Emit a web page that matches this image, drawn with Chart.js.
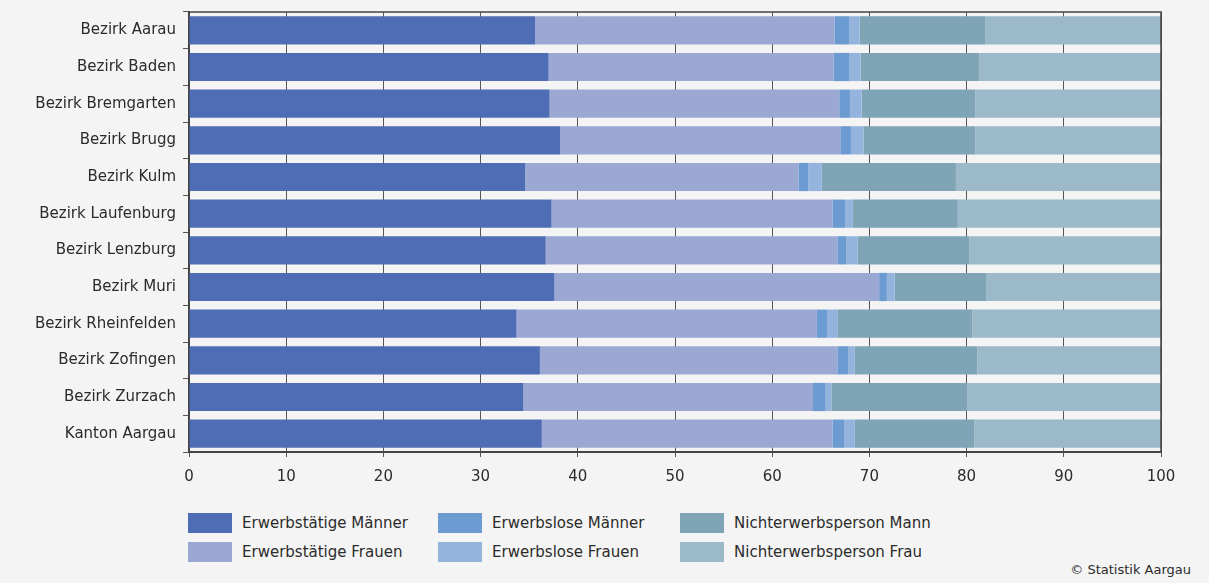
<!DOCTYPE html>
<html>
<head>
<meta charset="utf-8">
<script src="https://cdn.jsdelivr.net/npm/chart.js@4.4.1/dist/chart.umd.min.js"></script>
<style>
  body { margin: 0; background: #f4f4f4; font-family: 'DejaVu Sans', sans-serif; color: #2b2b2b; }
  #wrap { position: relative; width: 1209px; height: 583px; }
  #chartBox { position: absolute; left: 0; top: 0; width: 1209px; height: 490px; }
  .leg { position: absolute; font-size: 15px; line-height: 20px; white-space: nowrap; }
  .leg span { display: inline-block; width: 44px; height: 20px; vertical-align: top; margin-right: 10px; }
  #copy { position: absolute; right: 18px; top: 562px; font-size: 13px; }
</style>
</head>
<body>
<div id="wrap">
  <div id="chartBox"><canvas id="chartErwerb"></canvas></div>
  <div id="legend"></div>
  <div id="copy">© Statistik Aargau</div>
</div>
<script>
const bezirke = ['Bezirk Aarau', 'Bezirk Baden', 'Bezirk Bremgarten', 'Bezirk Brugg', 'Bezirk Kulm',
  'Bezirk Laufenburg', 'Bezirk Lenzburg', 'Bezirk Muri', 'Bezirk Rheinfelden', 'Bezirk Zofingen',
  'Bezirk Zurzach', 'Kanton Aargau'];

const erwerbstaetigeMaenner = [35.6, 37.0, 37.1, 38.2, 34.6, 37.3, 36.7, 37.6, 33.7, 36.1, 34.4, 36.3];
const erwerbstaetigeFrauen  = [30.8, 29.3, 29.8, 28.8, 28.1, 28.9, 30.0, 33.4, 30.9, 30.6, 29.8, 29.9];
const erwerbsloseMaenner    = [1.5, 1.6, 1.1, 1.1, 1.0, 1.3, 0.9, 0.8, 1.1, 1.1, 1.3, 1.2];
const erwerbsloseFrauen     = [1.1, 1.2, 1.2, 1.3, 1.4, 0.8, 1.2, 0.8, 1.0, 0.7, 0.6, 1.1];
const nichterwerbMann       = [12.9, 12.2, 11.7, 11.5, 13.8, 10.8, 11.5, 9.4, 13.9, 12.6, 14.0, 12.3];
const nichterwerbFrau       = [18.1, 18.7, 19.1, 19.1, 21.1, 20.9, 19.7, 18.0, 19.4, 18.9, 19.9, 19.2];

const xTicks = [0, 10, 20, 30, 40, 50, 60, 70, 80, 90, 100];

const series = [
  { label: 'Erwerbstätige Männer', data: erwerbstaetigeMaenner, color: '#4f6db5' },
  { label: 'Erwerbstätige Frauen', data: erwerbstaetigeFrauen, color: '#9ba8d4' },
  { label: 'Erwerbslose Männer', data: erwerbsloseMaenner, color: '#6b9bd1' },
  { label: 'Erwerbslose Frauen', data: erwerbsloseFrauen, color: '#94b4de' },
  { label: 'Nichterwerbsperson Mann', data: nichterwerbMann, color: '#7fa4b6' },
  { label: 'Nichterwerbsperson Frau', data: nichterwerbFrau, color: '#9bb9c9' }
];

// legend: 3 columns, men on top row, women below
const legendPos = [[188, 513], [188, 542], [438, 513], [438, 542], [680, 513], [680, 542]];
const legendDiv = document.getElementById('legend');
series.forEach((s, i) => {
  const d = document.createElement('div');
  d.className = 'leg';
  d.style.left = legendPos[i][0] + 'px';
  d.style.top = legendPos[i][1] + 'px';
  d.innerHTML = '<span style="background:' + s.color + '"></span>' + s.label;
  legendDiv.appendChild(d);
});

const frame = {
  id: 'frame',
  afterDraw(chart) {
    const { ctx, chartArea: a } = chart;
    ctx.save();
    ctx.strokeStyle = '#444';
    ctx.lineWidth = 1.5;
    ctx.beginPath();
    ctx.moveTo(a.left, a.top);
    ctx.lineTo(a.right, a.top);
    ctx.lineTo(a.right, a.bottom);
    ctx.stroke();
    ctx.restore();
  }
};

Chart.defaults.font.family = "'DejaVu Sans', sans-serif";
Chart.defaults.font.size = 15;
Chart.defaults.color = '#2b2b2b';

new Chart(document.getElementById('chartErwerb'), {
  type: 'bar',
  data: {
    labels: bezirke,
    datasets: series.map(s => ({
      label: s.label,
      data: s.data,
      backgroundColor: s.color,
      borderWidth: 0,
      categoryPercentage: 1,
      barPercentage: 0.77
    }))
  },
  options: {
    indexAxis: 'y',
    responsive: true,
    maintainAspectRatio: false,
    animation: false,
    layout: { padding: { top: 12, right: 48, left: 0, bottom: 0 } },
    plugins: { legend: { display: false }, tooltip: { enabled: false } },
    scales: {
      x: {
        stacked: true,
        min: 0,
        max: 100,
        afterBuildTicks: axis => { axis.ticks = xTicks.map(v => ({ value: v })); },
        afterFit: axis => { axis.height = 38; },
        ticks: { padding: 11, color: '#2b2b2b' },
        grid: { color: '#555', lineWidth: 1, tickLength: 5, tickColor: '#555' },
        border: { color: '#444', width: 2 }
      },
      y: {
        stacked: true,
        afterFit: axis => { axis.width = 189; axis.paddingTop = 0; axis.paddingBottom = 0; },
        ticks: { padding: 7, color: '#2b2b2b' },
        grid: { drawOnChartArea: false, offset: true, tickLength: 6, tickColor: '#555' },
        border: { color: '#444', width: 2 }
      }
    }
  },
  plugins: [frame]
});
</script>
</body>
</html>
